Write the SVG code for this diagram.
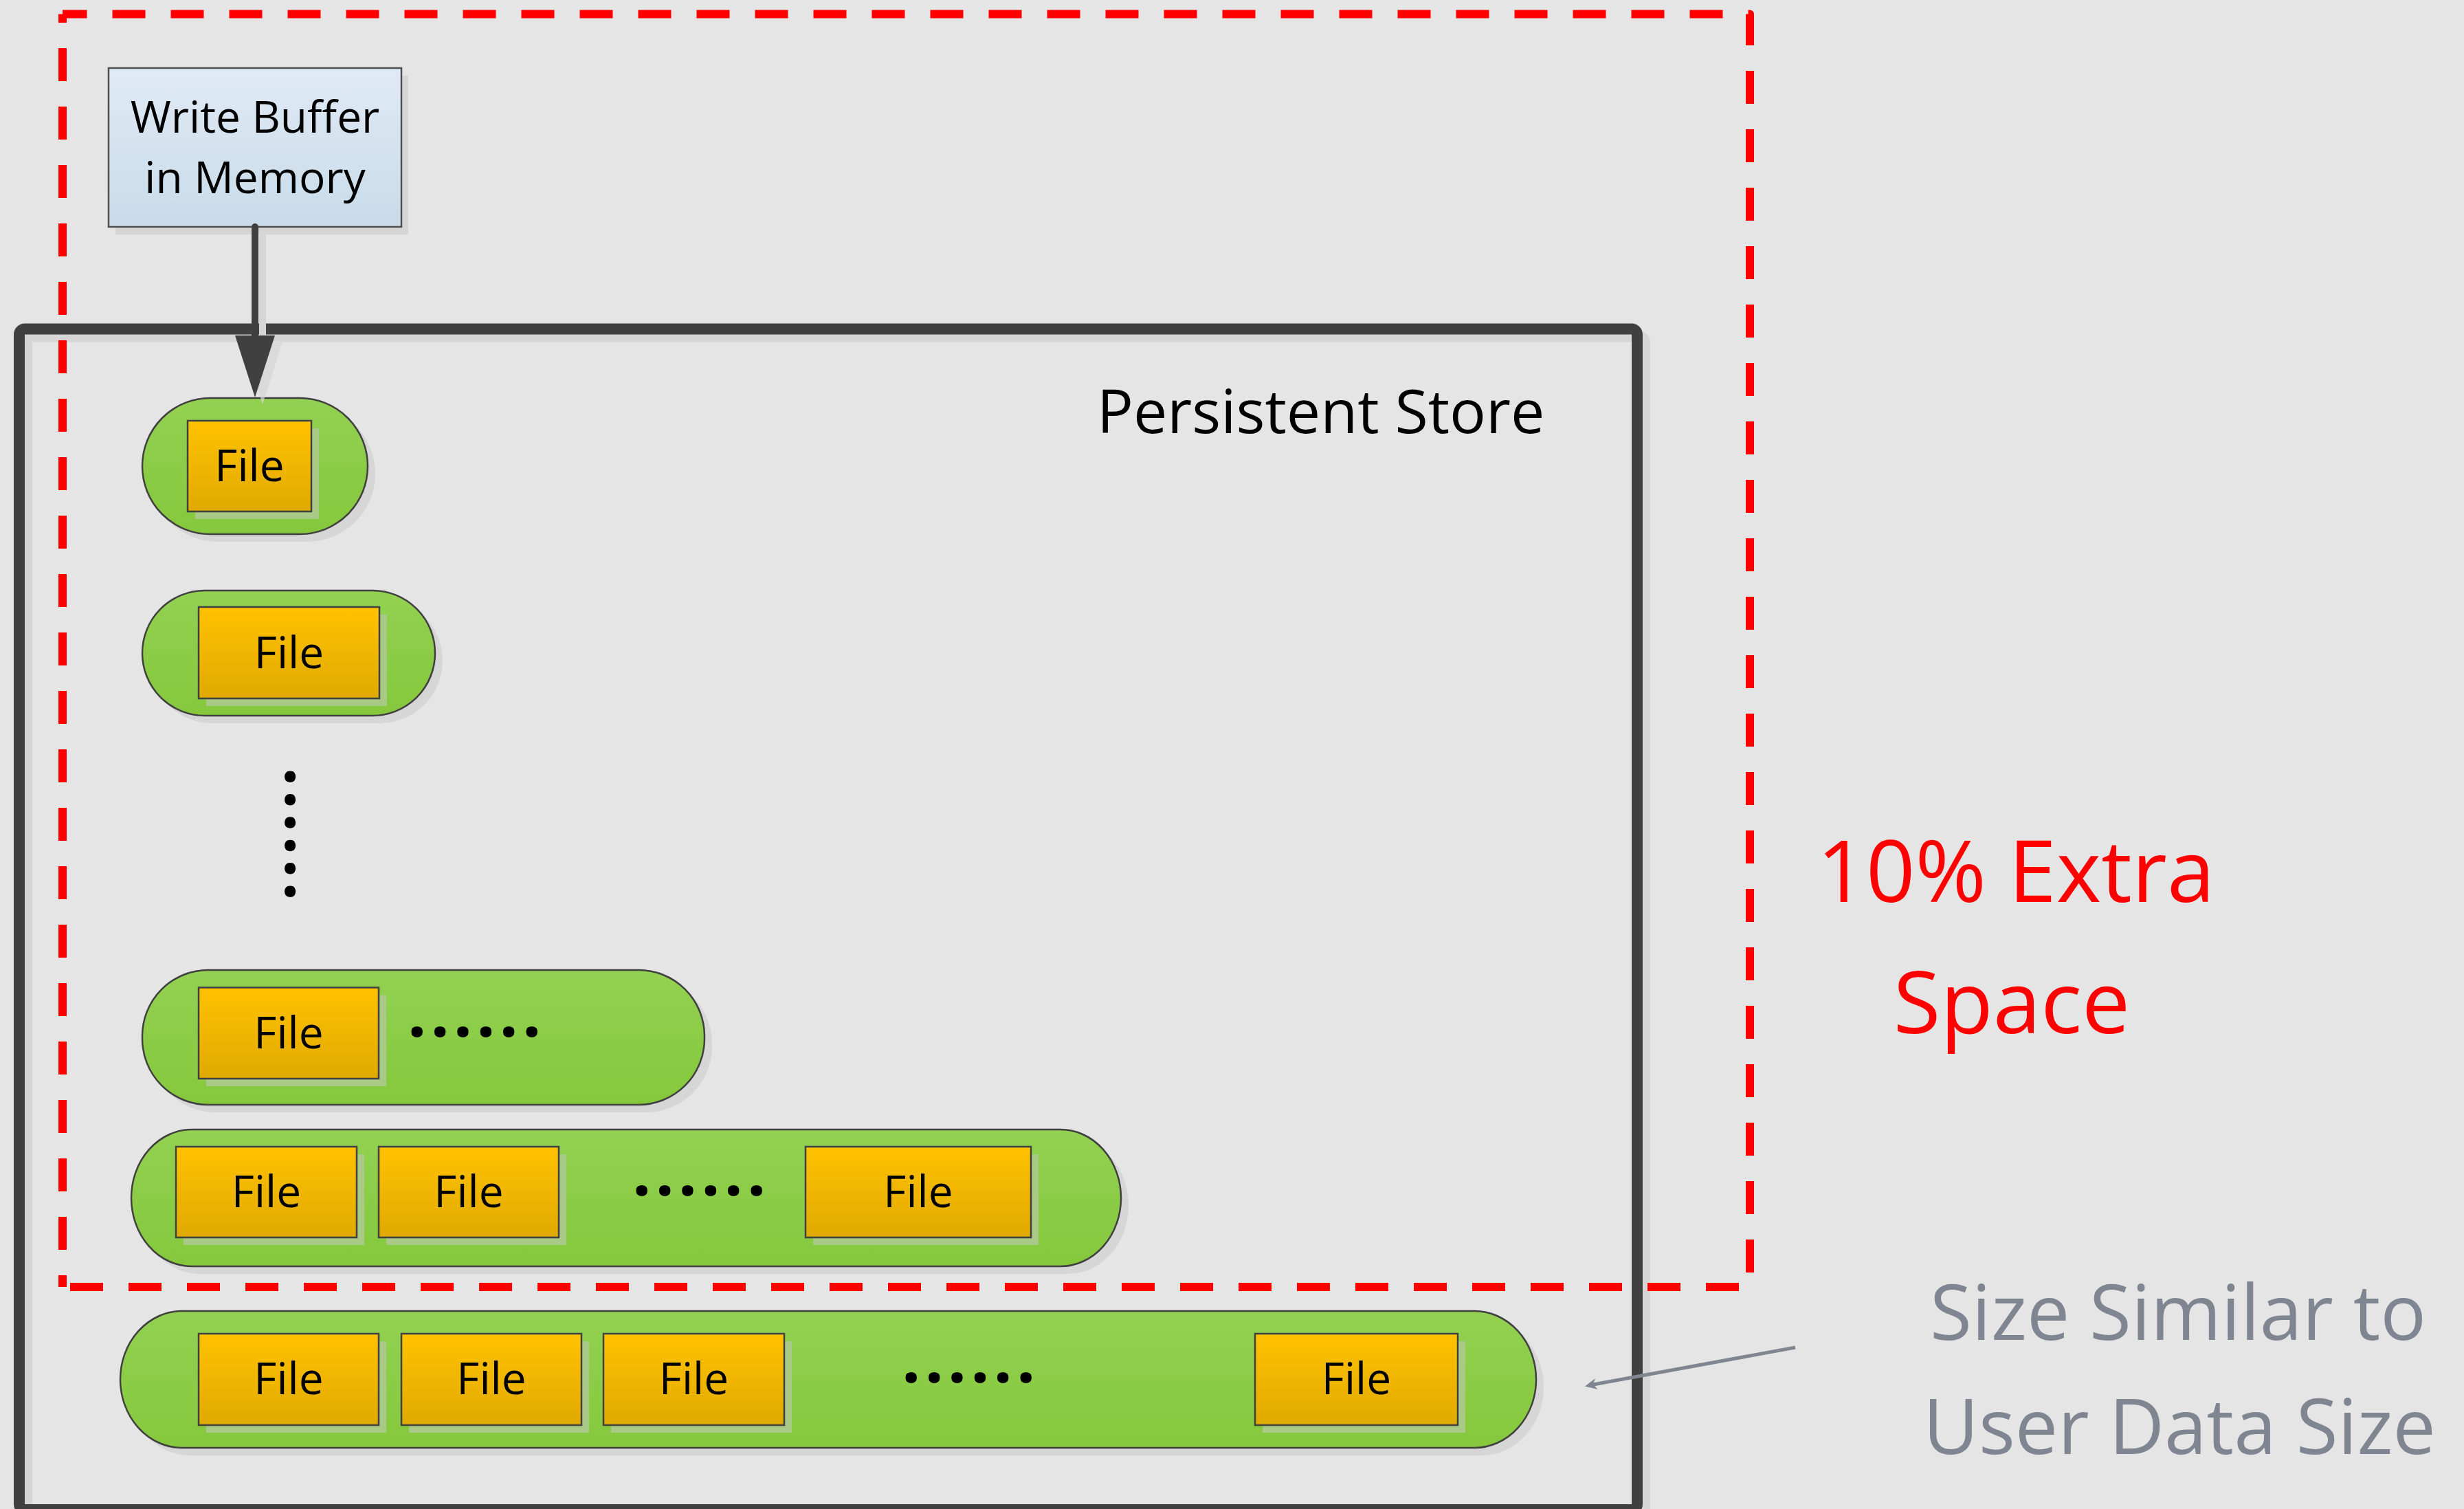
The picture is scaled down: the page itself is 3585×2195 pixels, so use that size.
<svg xmlns="http://www.w3.org/2000/svg" width="3585" height="2195" viewBox="0 0 3585 2195">
  <defs>
    <linearGradient id="gBuf" x1="0" y1="0" x2="0" y2="1">
      <stop offset="0" stop-color="#e0eaf4"/>
      <stop offset="1" stop-color="#c8dbea"/>
    </linearGradient>
    <linearGradient id="gPill" x1="0" y1="0" x2="0" y2="1">
      <stop offset="0" stop-color="#93d152"/>
      <stop offset="1" stop-color="#85c83c"/>
    </linearGradient>
    <linearGradient id="gFile" x1="0" y1="0" x2="0" y2="1">
      <stop offset="0" stop-color="#ffc200"/>
      <stop offset="1" stop-color="#e0a900"/>
    </linearGradient>
    <style>
      .pill { fill: url(#gPill); stroke: #404040; stroke-width: 2.5; }
      .pillShadow { fill: #d6d6d6; }
      .file { fill: url(#gFile); stroke: #404040; stroke-width: 2.5; }
      .fileShadow { fill: #a9ca86; }
      .lbl { font-family: "Open Sans", "Liberation Sans", sans-serif; fill: #000; }
      .fileTxt { font-size: 64px; text-anchor: middle; }
      .dots { font-family: "Open Sans", "Liberation Sans", sans-serif; font-weight: bold; font-size: 96px; letter-spacing: 6px; fill: #000; }
      .redDash { fill: none; stroke: #ff0000; stroke-width: 12; stroke-dasharray: 48 37; stroke-linejoin: round; }
      .red { font-family: "Open Sans", "Liberation Sans", sans-serif; font-size: 125px; fill: #ff0000; text-anchor: middle; }
      .note { font-family: "Open Sans", "Liberation Sans", sans-serif; font-size: 111px; fill: #7f8692; text-anchor: middle; }
    </style>
  </defs>

  <!-- canvas -->
  <rect x="0" y="0" width="3585" height="2195" fill="#e5e5e5"/>

  <!-- persistent store frame -->
  <g id="persistent-store">
    <rect x="39" y="489.5" width="2354" height="1717.5" rx="8" fill="none" stroke="#d6d6d6" stroke-width="16"/>
    <rect x="28" y="478.5" width="2354" height="1717.5" rx="8" fill="none" stroke="#404040" stroke-width="16"/>
    <text class="lbl" x="1596" y="630" font-size="88">Persistent Store</text>
  </g>

  <!-- write buffer -->
  <g id="write-buffer">
    <rect x="168" y="110" width="426" height="231" fill="#d6d6d6"/>
    <rect x="158" y="99" width="426" height="231" fill="url(#gBuf)" stroke="#505050" stroke-width="2.5"/>
    <text class="lbl" x="371" y="193" font-size="64" text-anchor="middle">Write Buffer</text>
    <text class="lbl" x="371" y="281" font-size="64" text-anchor="middle">in Memory</text>
  </g>

  <!-- level 1 -->
  <g id="level-1">
    <rect class="pillShadow" x="218" y="590" width="328" height="198" rx="99"/>
    <rect class="pill" x="207" y="579" width="328" height="198" rx="99"/>
    <rect class="fileShadow" x="284" y="623" width="180" height="132"/>
    <rect class="file" x="273" y="612" width="180" height="132"/>
    <text class="lbl fileTxt" x="363" y="700">File</text>
  </g>

  <!-- level 2 -->
  <g id="level-2">
    <rect class="pillShadow" x="218" y="870" width="426" height="182" rx="91"/>
    <rect class="pill" x="207" y="859" width="426" height="182" rx="91"/>
    <rect class="fileShadow" x="300" y="894" width="263" height="133"/>
    <rect class="file" x="289" y="883" width="263" height="133"/>
    <text class="lbl fileTxt" x="420.5" y="972">File</text>
  </g>

  <!-- vertical ellipsis between levels -->
  <g id="more-levels">
    <text class="dots" x="415" y="1116" transform="rotate(90 415 1116)">......</text>
  </g>

  <!-- level 3 -->
  <g id="level-3">
    <rect class="pillShadow" x="218" y="1422" width="818" height="196" rx="96"/>
    <rect class="pill" x="207" y="1411" width="818" height="196" rx="96"/>
    <rect class="fileShadow" x="300" y="1447.5" width="262" height="132.5"/>
    <rect class="file" x="289" y="1436.5" width="262" height="132.5"/>
    <text class="lbl fileTxt" x="420" y="1525">File</text>
    <text class="dots" x="593" y="1508">......</text>
  </g>

  <!-- level 4 -->
  <g id="level-4">
    <rect class="pillShadow" x="202" y="1654" width="1440" height="199" rx="88" ry="99.5"/>
    <rect class="pill" x="191" y="1643" width="1440" height="199" rx="88" ry="99.5"/>
    <rect class="fileShadow" x="267" y="1679" width="263" height="132"/>
    <rect class="file" x="256" y="1668" width="263" height="132"/>
    <text class="lbl fileTxt" x="387.5" y="1756">File</text>
    <rect class="fileShadow" x="562" y="1679" width="262" height="132"/>
    <rect class="file" x="551" y="1668" width="262" height="132"/>
    <text class="lbl fileTxt" x="682" y="1756">File</text>
    <text class="dots" x="920" y="1739">......</text>
    <rect class="fileShadow" x="1183" y="1679" width="328" height="132"/>
    <rect class="file" x="1172" y="1668" width="328" height="132"/>
    <text class="lbl fileTxt" x="1336" y="1756">File</text>
  </g>

  <!-- level 5: sized like the user data -->
  <g id="level-5">
    <rect class="pillShadow" x="186" y="1918" width="2060" height="199" rx="90" ry="99.5"/>
    <rect class="pill" x="175" y="1907" width="2060" height="199" rx="90" ry="99.5"/>
    <rect class="fileShadow" x="300" y="1951" width="262" height="133"/>
    <rect class="file" x="289" y="1940" width="262" height="133"/>
    <text class="lbl fileTxt" x="420" y="2028">File</text>
    <rect class="fileShadow" x="595" y="1951" width="262" height="133"/>
    <rect class="file" x="584" y="1940" width="262" height="133"/>
    <text class="lbl fileTxt" x="715" y="2028">File</text>
    <rect class="fileShadow" x="889" y="1951" width="263" height="133"/>
    <rect class="file" x="878" y="1940" width="263" height="133"/>
    <text class="lbl fileTxt" x="1009.5" y="2028">File</text>
    <text class="dots" x="1312" y="2011">......</text>
    <rect class="fileShadow" x="1837" y="1951" width="295" height="133"/>
    <rect class="file" x="1826" y="1940" width="295" height="133"/>
    <text class="lbl fileTxt" x="1973.5" y="2028">File</text>
  </g>

  <!-- connectors -->
  <g id="connectors">
    <line x1="382" y1="341" x2="382" y2="495" stroke="#d6d6d6" stroke-width="10"/>
    <polygon points="353,498 411,498 382,588" fill="#d6d6d6" opacity="0.7"/>
    <line x1="371" y1="330" x2="371" y2="492" stroke="#404040" stroke-width="10" stroke-linecap="round"/>
    <polygon points="342,488 400,488 371,578" fill="#404040"/>
    <line x1="2612" y1="1960" x2="2318" y2="2014" stroke="#7f8692" stroke-width="5"/>
    <polygon points="2306,2016.5 2321,2005 2318,2013.5 2324.5,2021" fill="#7f8692"/>
  </g>

  <!-- 10% extra space boundary -->
  <g id="extra-space">
    <path class="redDash" d="M91 20.5 H2546 V1872 H91" stroke-dashoffset="12.5"/>
    <path class="redDash" d="M91 20.5 V1872" stroke-dashoffset="35.5"/>
    <text class="red" x="2933" y="1312">10% Extra</text>
    <text class="red" x="2927" y="1503">Space</text>
  </g>

  <!-- size note -->
  <g id="size-note">
    <text class="note" x="3169" y="1949">Size Similar to</text>
    <text class="note" x="3171" y="2115">User Data Size</text>
  </g>
</svg>
